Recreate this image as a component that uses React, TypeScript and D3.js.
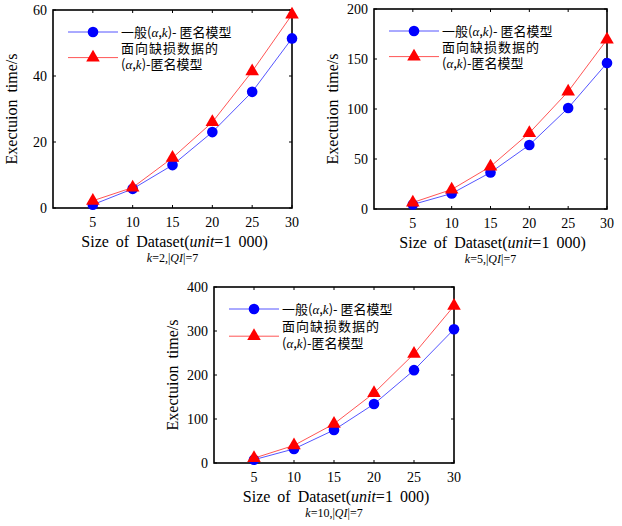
import React from 'react';
import * as d3 from 'd3';

// 数据集大小 (unit = 1 000)
const sizes = [5, 10, 15, 20, 25, 30];

// k=2
const normalK2 = [1, 5.8, 13, 23, 35.2, 51.4];
const missingK2 = [2.2, 6.2, 15.2, 26, 41.4, 58.6];
// k=5
const normalK5 = [4.5, 15.5, 36.5, 64, 101, 146];
const missingK5 = [6.5, 19.5, 42.5, 76, 117.5, 169.5];
// k=10
const normalK10 = [7.5, 32, 75, 134, 211, 304];
const missingK10 = [11, 40, 89, 159, 248, 357];

const ticksK2 = [0, 20, 40, 60];
const ticksK5 = [0, 50, 100, 150, 200];
const ticksK10 = [0, 100, 200, 300, 400];

const serif = '"Liberation Serif", "DejaVu Serif", serif';
const cjk = '"Noto Sans CJK SC", sans-serif';

type PanelProps = {
  left: number; right: number; top: number; bottom: number;
  yMax: number; yTicks: number[];
  normal: number[]; missing: number[];
  k: number;
  legendDy?: number;
};

function Panel({ left, right, top, bottom, yMax, yTicks, normal, missing, k, legendDy = 16 }: PanelProps) {
  const x = d3.scaleLinear().domain([0, 30]).range([left, right]);
  const y = d3.scaleLinear().domain([0, yMax]).range([bottom, top]);
  const line = d3.line<number>().x((_, i) => x(sizes[i])).y(d => y(d));
  const tri = d3.symbol().type(d3.symbolTriangle).size(80)();
  const cx = (left + right) / 2;
  const lx = left + 15;
  const ly = top + 22;

  return (
    <g>
      {/* ticks */}
      {yTicks.map(t => (
        <g key={'y' + t}>
          <line x1={left} x2={left + 3} y1={y(t)} y2={y(t)} stroke="#000" />
          <line x1={right} x2={right - 3} y1={y(t)} y2={y(t)} stroke="#000" />
          <text x={left - 6} y={y(t)} dy="0.35em" textAnchor="end" fontFamily={serif} fontSize={14}>{t}</text>
        </g>
      ))}
      {sizes.map(s => (
        <g key={'x' + s}>
          <line x1={x(s)} x2={x(s)} y1={top} y2={top + 3} stroke="#000" />
          <line x1={x(s)} x2={x(s)} y1={bottom} y2={bottom - 3} stroke="#000" />
          <text x={x(s)} y={bottom + 19} textAnchor="middle" fontFamily={serif} fontSize={14}>{s}</text>
        </g>
      ))}
      <rect x={left} y={top} width={right - left} height={bottom - top} fill="none" stroke="#000" strokeWidth={1.6} />

      {/* series */}
      <path d={line(normal) ?? ''} fill="none" stroke="#5555ff" strokeWidth={1} />
      <path d={line(missing) ?? ''} fill="none" stroke="#ff5555" strokeWidth={1} />
      {normal.map((v, i) => (
        <circle key={'c' + i} cx={x(sizes[i])} cy={y(v)} r={5.3} fill="#0000ff" />
      ))}
      {missing.map((v, i) => (
        <path key={'t' + i} d={tri ?? ''} transform={`translate(${x(sizes[i])},${y(v)})`} fill="#ff0000" />
      ))}

      {/* legend */}
      <line x1={lx} x2={lx + 50} y1={ly} y2={ly} stroke="#5555ff" />
      <circle cx={lx + 25} cy={ly} r={5.3} fill="#0000ff" />
      <line x1={lx} x2={lx + 50} y1={ly + legendDy * 1.6} y2={ly + legendDy * 1.6} stroke="#ff5555" />
      <path d={tri ?? ''} transform={`translate(${lx + 25},${ly + legendDy * 1.6})`} fill="#ff0000" />
      <g fontFamily={cjk} fontSize={13}>
        <text x={lx + 53} y={ly} dy="0.35em">
          一般(<tspan fontFamily={serif} fontStyle="italic">α</tspan>,<tspan fontFamily={serif} fontStyle="italic">k</tspan>)- 匿名模型
        </text>
        <text x={lx + 53} y={ly + legendDy} dy="0.35em" letterSpacing={1}>面向缺损数据的</text>
        <text x={lx + 53} y={ly + legendDy * 2} dy="0.35em">
          (<tspan fontFamily={serif} fontStyle="italic">α</tspan>,<tspan fontFamily={serif} fontStyle="italic">k</tspan>)-匿名模型
        </text>
      </g>

      {/* titles */}
      <text x={cx + 2} y={bottom + 39} textAnchor="middle" fontFamily={serif} fontSize={16} wordSpacing={3}>
        Size of Dataset(<tspan fontStyle="italic">unit</tspan>=1 000)
      </text>
      <text x={cx} y={bottom + 54} textAnchor="middle" fontFamily={serif} fontSize={12}>
        <tspan fontStyle="italic">k</tspan>={k},|<tspan fontStyle="italic">QI</tspan>|=7
      </text>
      <text transform={`translate(${left - 36},${(top + bottom) / 2}) rotate(-90)`} textAnchor="middle"
        fontFamily={serif} fontSize={16} wordSpacing={3}>Exectuion time/s</text>
    </g>
  );
}

export default function App() {
  return (
    <svg width={622} height={526} style={{ position: 'absolute', left: 0, top: 0, background: '#fff' }}>
      <Panel left={53} right={292} top={10} bottom={208} yMax={60} yTicks={ticksK2}
        normal={normalK2} missing={missingK2} k={2} />
      <Panel left={374} right={607} top={9} bottom={209} yMax={200} yTicks={ticksK5}
        normal={normalK5} missing={missingK5} k={5} />
      <Panel left={214} right={454} top={287} bottom={463} yMax={400} yTicks={ticksK10}
        normal={normalK10} missing={missingK10} k={10} legendDy={17} />
    </svg>
  );
}
